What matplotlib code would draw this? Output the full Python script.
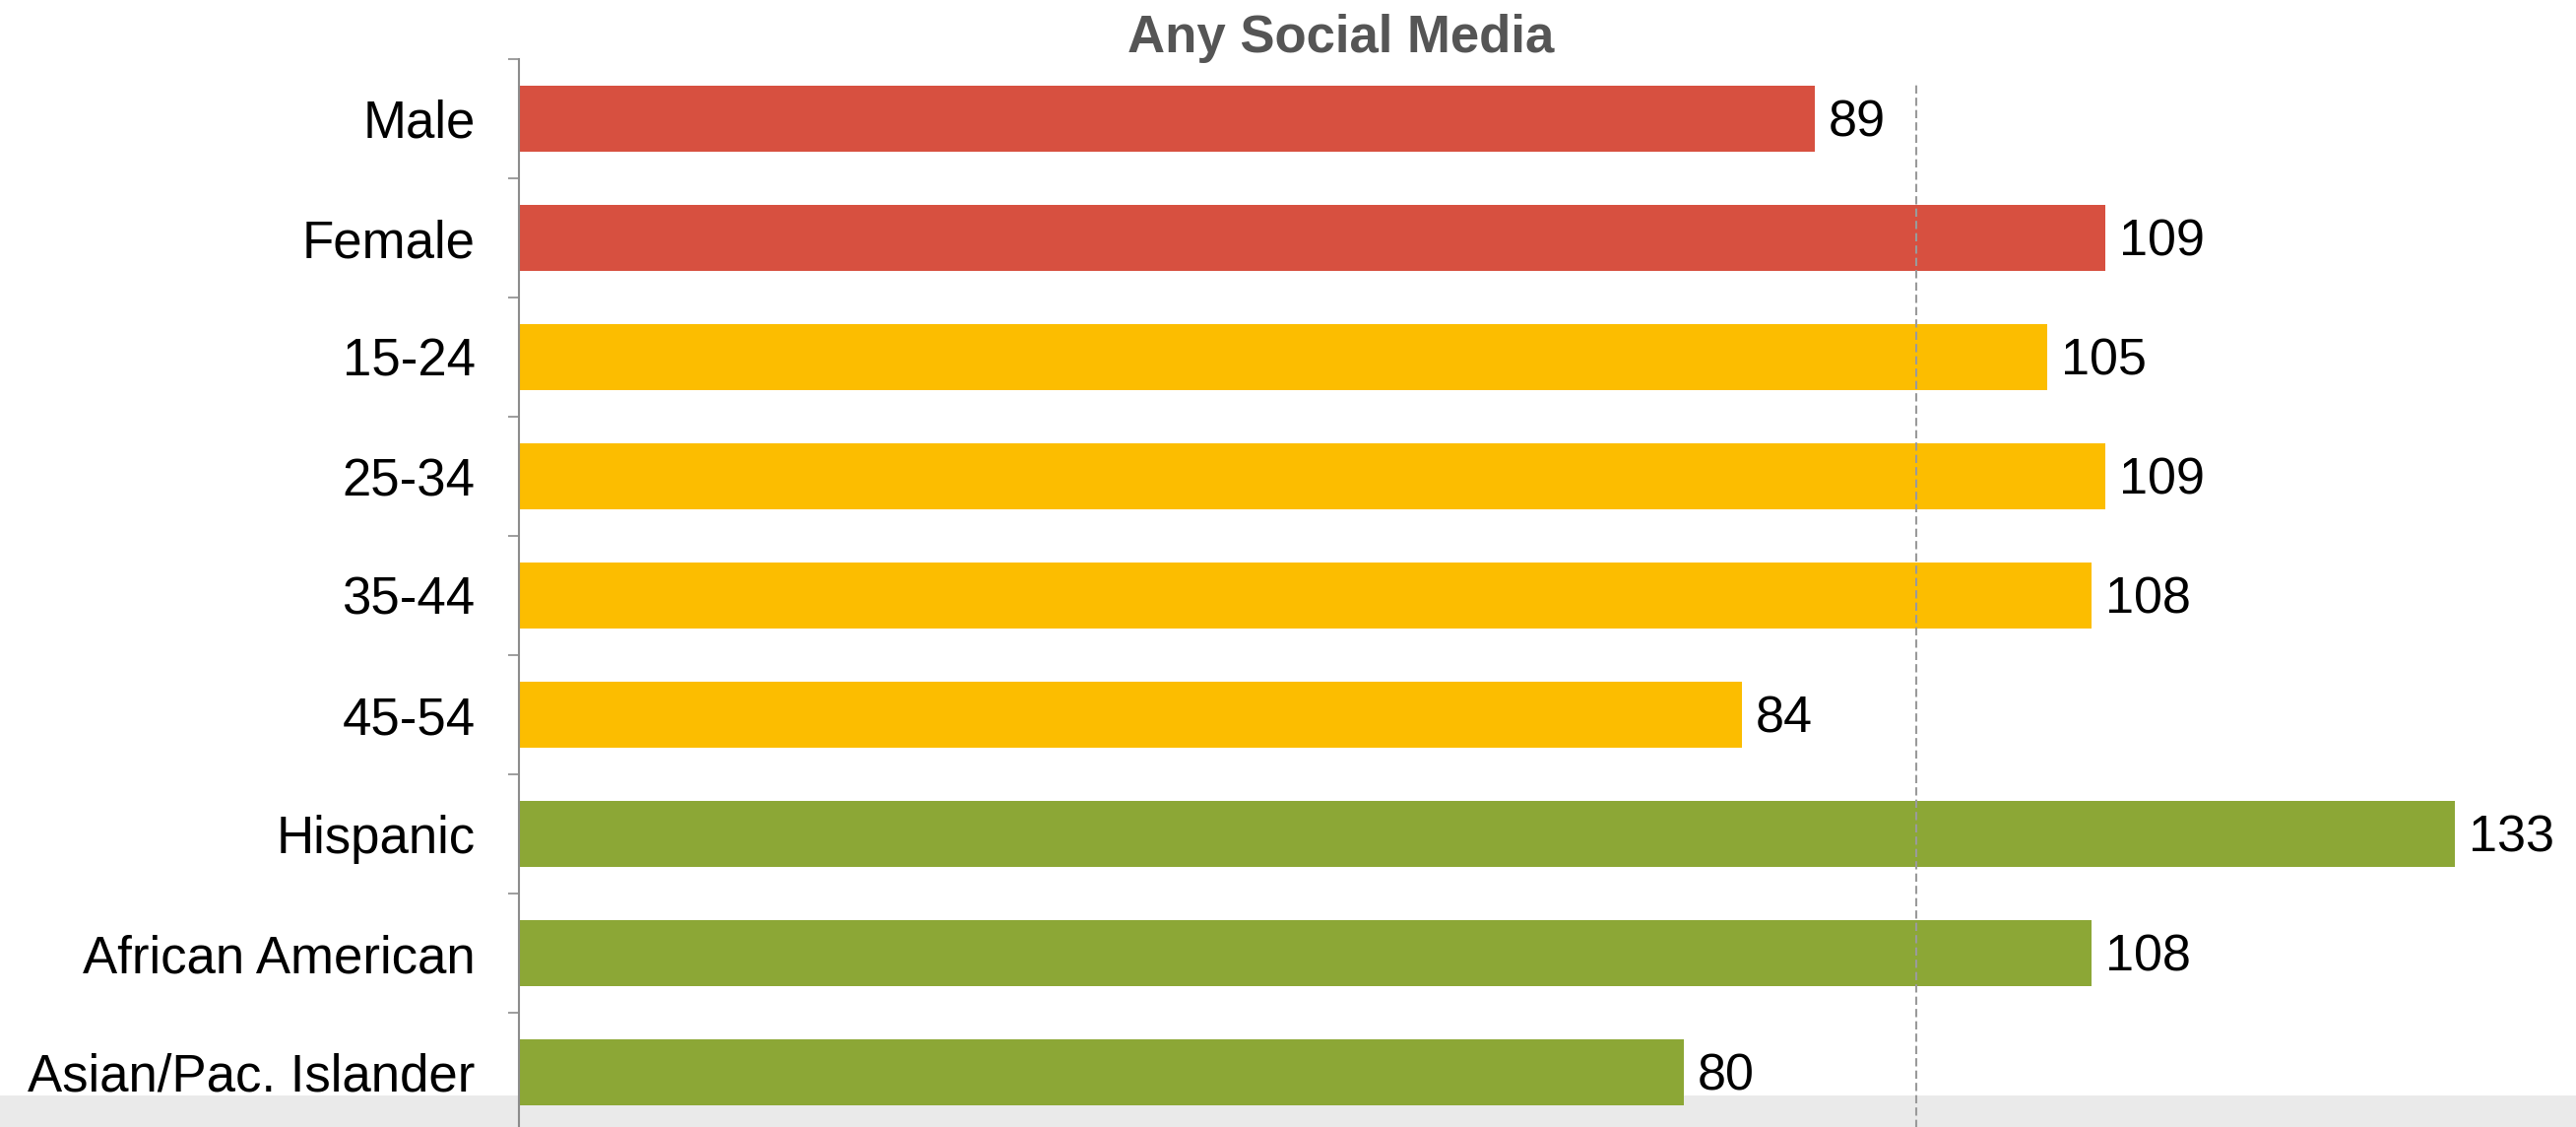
import matplotlib
matplotlib.use("Agg")
import matplotlib.pyplot as plt
from matplotlib.patches import Rectangle

# ---- data ----
categories = ["Male", "Female", "15-24", "25-34", "35-44", "45-54",
              "Hispanic", "African American", "Asian/Pac. Islander"]
values = [89, 109, 105, 109, 108, 84, 133, 108, 80]
groups = ["gender", "gender", "age", "age", "age", "age",
          "ethnicity", "ethnicity", "ethnicity"]
group_colors = {"gender": "#D75040", "age": "#FCBD00", "ethnicity": "#8CA736"}
title = "Any Social Media"
reference_value = 96
x_max = 141.3

plt.rcParams["font.family"] = ["Liberation Sans", "DejaVu Sans"]

W, H = 2616, 1144
fig = plt.figure(figsize=(W / 100, H / 100), dpi=100)
fig.patch.set_facecolor("white")

# bottom grey band
fig.patches.append(Rectangle((0, 0), 1, 32 / H, transform=fig.transFigure,
                             facecolor="#EAEAEA", edgecolor="none", zorder=0))

ax_left_px = 527
ax_top_px = 60
ax_bottom_px = ax_top_px + 9 * 121
ax = fig.add_axes([ax_left_px / W, 1 - ax_bottom_px / H,
                   1 - ax_left_px / W, (ax_bottom_px - ax_top_px) / H])
ax.set_facecolor("none")
ax.set_zorder(2)

ypos = list(range(len(categories)))
colors = [group_colors[g] for g in groups]
ax.barh(ypos, values, height=0.555, color=colors, edgecolor="none", zorder=2)

ax.set_xlim(0, x_max)
ax.set_ylim(len(categories) - 0.5, -0.5)

ax.axvline(reference_value, ymin=0,
           ymax=(ax_bottom_px - 83) / (ax_bottom_px - ax_top_px),
           color="#9A9A9A", lw=1.5, linestyle=(0, (4, 2)), zorder=3)

for spine in ["top", "right", "bottom"]:
    ax.spines[spine].set_visible(False)
ax.spines["left"].set_color("#8C8C8C")
ax.spines["left"].set_linewidth(1.5)
ax.spines["left"].set_zorder(4)

ax.set_xticks([])
ax.set_yticks(ypos)
ax.set_yticklabels(categories, fontsize=38, color="black")
ax.tick_params(axis="y", which="major", length=0, pad=32)
ax.set_yticks([y - 0.5 for y in range(len(categories) + 1)], minor=True)
ax.tick_params(axis="y", which="minor", length=8, width=1.2, color="#8C8C8C")

for y, v in zip(ypos, values):
    ax.annotate(str(v), xy=(v, y), xytext=(10, -3), textcoords="offset points",
                va="center", ha="left", fontsize=37.5, color="black",
                annotation_clip=False)

fig.text(1362 / W, 1 - 53 / H, title, ha="center", va="baseline",
         fontsize=38, fontweight="bold", color="#555555")

fig.savefig("out.png", dpi=100, facecolor="white")
